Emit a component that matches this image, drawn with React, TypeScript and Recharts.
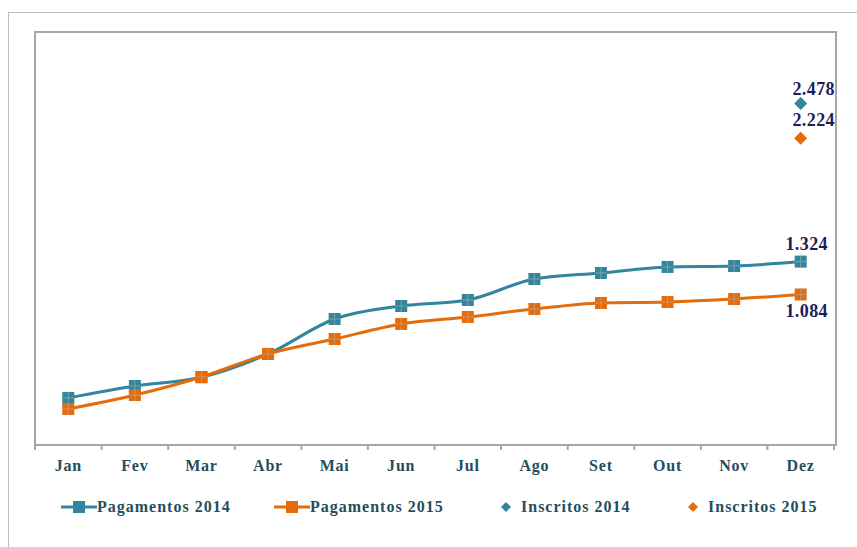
import { LineChart, Line, XAxis, YAxis } from "recharts";

const months = ["Jan", "Fev", "Mar", "Abr", "Mai", "Jun", "Jul", "Ago", "Set", "Out", "Nov", "Dez"];
const pagamentos2014 = [329, 416, 480, 650, 905, 1000, 1044, 1197, 1241, 1285, 1292, 1324];
const pagamentos2015 = [248, 350, 482, 650, 759, 869, 920, 978, 1022, 1029, 1051, 1084];
const inscritos2014 = [null, null, null, null, null, null, null, null, null, null, null, 2478];
const inscritos2015 = [null, null, null, null, null, null, null, null, null, null, null, 2224];

const data = months.map((m, i) => ({
  month: m,
  p14: pagamentos2014[i],
  p15: pagamentos2015[i],
  i14: inscritos2014[i],
  i15: inscritos2015[i],
}));

const TEAL = "#31859c";
const ORANGE = "#e46c0a";
const TEXT = "#254e5c";
const NAVY = "#1c1c5e";
const FONT = "'Liberation Serif', 'Times New Roman', serif";

const W = 857, H = 547;
const M = { top: 32, right: 23, bottom: 74, left: 35 };
const PLOT_W = W - M.left - M.right;
const BAND = PLOT_W / months.length;

const fmt = (n: number) => String(n).replace(/\B(?=(\d{3})+(?!\d))/g, ".");

function SquareDot({ cx, cy, color }: { cx?: number; cy?: number; color: string }) {
  if (cx == null || cy == null) return null;
  const s = 6;
  return (
    <g>
      <rect x={cx - s} y={cy - s} width={s * 2} height={s * 2} fill={color} />
      <line x1={cx - s} x2={cx + s} y1={cy} y2={cy} stroke="#b0b0b0" strokeWidth={1} opacity={0.6} />
      <line x1={cx} x2={cx} y1={cy - s} y2={cy + s} stroke="#b0b0b0" strokeWidth={1} opacity={0.6} />
    </g>
  );
}

function Diamond({ cx, cy, value, color }: { cx?: number; cy?: number; value?: number | null; color: string }) {
  if (cx == null || cy == null || value == null) return null;
  const s = 6.5;
  return <path d={`M${cx},${cy - s}L${cx + s},${cy}L${cx},${cy + s}L${cx - s},${cy}Z`} fill={color} />;
}

function EndLabel({ x, y, value, index, dy, dx = 6 }: { x?: number; y?: number; value?: number | null; index?: number; dy: number; dx?: number }) {
  if (x == null || y == null || value == null || index !== months.length - 1) return null;
  return (
    <text x={x + dx} y={y + dy} textAnchor="middle" fontFamily={FONT} fontWeight={700} fontSize={18} letterSpacing={0.4} fill={NAVY}>
      {fmt(value)}
    </text>
  );
}

function MonthTick({ x, y, payload, index }: { x?: number; y?: number; payload?: { value: string }; index?: number }) {
  if (x == null || y == null) return null;
  const left = x - BAND / 2;
  return (
    <g>
      <line x1={left} x2={left} y1={y} y2={y + 5} stroke="#a6a6a6" strokeWidth={2} />
      {index === months.length - 1 && <line x1={left + BAND} x2={left + BAND} y1={y} y2={y + 5} stroke="#a6a6a6" strokeWidth={2} />}
      <text x={x} y={y + 26} textAnchor="middle" fontFamily={FONT} fontWeight={700} fontSize={16} letterSpacing={0.8} fill={TEXT}>
        {payload?.value}
      </text>
    </g>
  );
}

function LegendItem({ kind, color, label, left }: { kind: "line" | "diamond"; color: string; label: string; left: number }) {
  return (
    <span style={{ position: "absolute", left, top: 0, display: "inline-flex", alignItems: "center", whiteSpace: "nowrap" }}>
      {kind === "line" ? (
        <svg width={36} height={14}>
          <line x1={0} x2={36} y1={7} y2={7} stroke={color} strokeWidth={3} />
          <rect x={12} y={1} width={12} height={12} fill={color} />
        </svg>
      ) : (
        <svg width={20} height={14}>
          <path d="M5,2L10,7L5,12L0,7Z" fill={color} />
        </svg>
      )}
      <span>{label}</span>
    </span>
  );
}

export default function App() {
  return (
    <div style={{ position: "absolute", left: 0, top: 0, width: W, height: H, background: "#fff", overflow: "hidden" }}>
      <div style={{ position: "absolute", left: 8, top: 12, width: 900, height: 600, borderLeft: "1px solid #bdbdbd", borderTop: "1px solid #bdbdbd" }} />
      <div style={{ position: "absolute", left: M.left - 1, top: M.top - 1, width: PLOT_W, height: H - M.top - M.bottom - 30, border: "2px solid #a6a6a6", boxSizing: "content-box" }} />
      <LineChart width={W} height={H} data={data} margin={M} style={{ position: "absolute", left: 0, top: 0 }}>
        <XAxis dataKey="month" axisLine={false} tickLine={false} tickSize={0} height={30} interval={0}
          padding={{ left: BAND / 2, right: BAND / 2 }} tick={<MonthTick />} />
        <YAxis hide domain={[0, 3000]} />
        <Line dataKey="p14" type="monotone" stroke={TEAL} strokeWidth={3} isAnimationActive={false}
          dot={<SquareDot color={TEAL} />} activeDot={false}
          label={<EndLabel dy={-12} />} />
        <Line dataKey="p15" type="monotone" stroke={ORANGE} strokeWidth={3} isAnimationActive={false}
          dot={<SquareDot color={ORANGE} />} activeDot={false}
          label={<EndLabel dy={23} />} />
        <Line dataKey="i14" stroke="none" isAnimationActive={false}
          dot={<Diamond color={TEAL} />} activeDot={false}
          label={<EndLabel dy={-9} dx={13} />} />
        <Line dataKey="i15" stroke="none" isAnimationActive={false}
          dot={<Diamond color={ORANGE} />} activeDot={false}
          label={<EndLabel dy={-12} dx={13} />} />
      </LineChart>
      <div style={{ position: "absolute", left: 0, top: 498, width: W, height: 20, fontFamily: FONT, fontWeight: 700, fontSize: 16, letterSpacing: 1, color: TEXT }}>
        <LegendItem kind="line" color={TEAL} label="Pagamentos 2014" left={61} />
        <LegendItem kind="line" color={ORANGE} label="Pagamentos 2015" left={274} />
        <LegendItem kind="diamond" color={TEAL} label="Inscritos 2014" left={501} />
        <LegendItem kind="diamond" color={ORANGE} label="Inscritos 2015" left={688} />
      </div>
    </div>
  );
}
